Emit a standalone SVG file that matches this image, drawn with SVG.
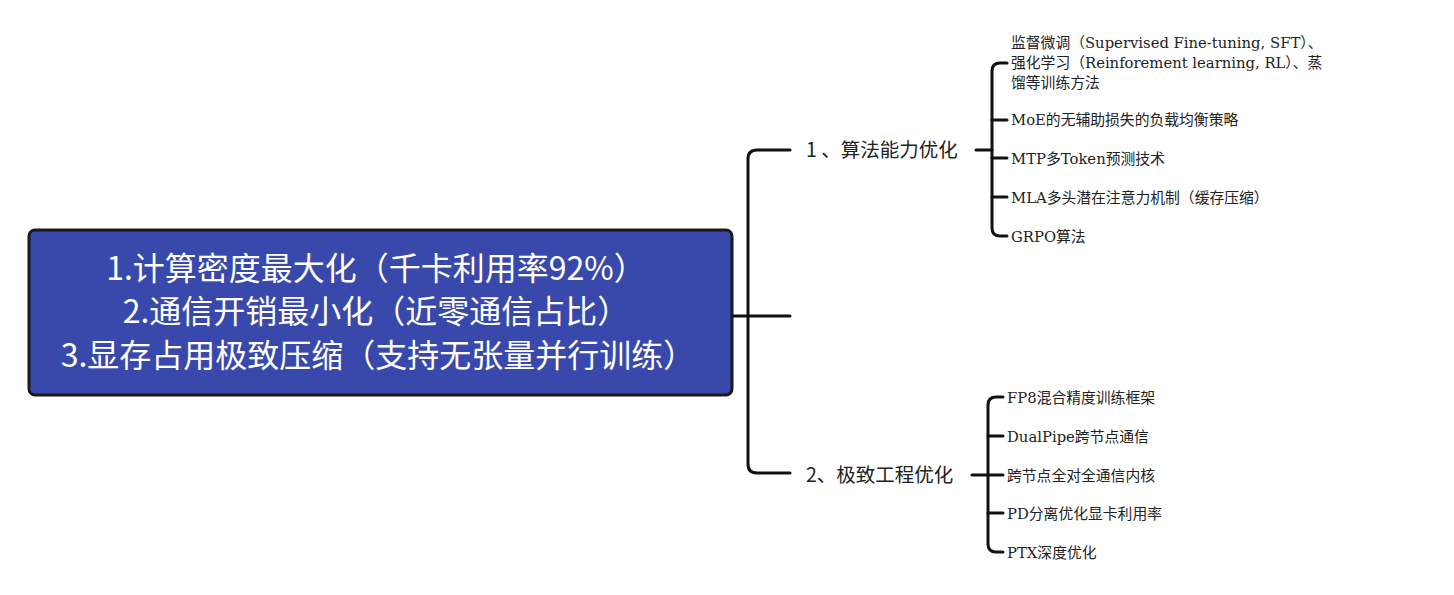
<svg xmlns="http://www.w3.org/2000/svg" width="1454" height="595" viewBox="0 0 1454 595">
<style>
.conn{fill:none;stroke:#111;stroke-width:3;stroke-linecap:round;stroke-linejoin:round}
.main{font-family:"Noto Sans CJK SC","Noto Sans",sans-serif;font-size:32px;fill:#fff;text-anchor:middle}
.l1{font-family:"Noto Sans CJK SC",sans-serif;font-size:19.5px;fill:#222}
.l2{font-family:"DejaVu Serif","Noto Sans CJK SC",serif;font-size:14.8px;fill:#222}
</style>
<rect width="1454" height="595" fill="#fff"/>
<g id="connectors">
<path class="conn" d="M733 316H790"/>
<path class="conn" d="M790 150H757Q748 150 748 159V464Q748 473 757 473H790"/>
<path class="conn" d="M976 150H992"/>
<path class="conn" d="M1007 63H1000Q992 63 992 71V228Q992 236 1000 236H1007"/>
<path class="conn" d="M992 120H1007M992 158H1007M992 197H1007"/>
<path class="conn" d="M972 475H1003"/>
<path class="conn" d="M1003 397H996Q988 397 988 405V544Q988 552 996 552H1003"/>
<path class="conn" d="M988 436H1003M988 513H1003"/>
</g>
<g id="root">
<rect x="29" y="230" width="703" height="165" rx="6" fill="#3949AB" stroke="#1a1a1a" stroke-width="3"/>
<text class="main" x="376" y="280">1.计算密度最大化（千卡利用率92%）</text>
<text class="main" x="376" y="323">2.通信开销最小化（近零通信占比）</text>
<text class="main" x="378" y="367">3.显存占用极致压缩（支持无张量并行训练）</text>
</g>
<g id="n1"><text class="l1" x="806" y="157">1 、算法能力优化</text></g>
<g id="n2"><text class="l1" x="806" y="482">2、极致工程优化</text></g>
<g id="n1a"><text class="l2" x="1011" y="48">监督微调（Supervised Fine-tuning, SFT）、</text><text class="l2" x="1011" y="68">强化学习（Reinforement learning, RL）、蒸</text><text class="l2" x="1011" y="88">馏等训练方法</text></g>
<g id="n1b"><text class="l2" x="1011" y="125">MoE的无辅助损失的负载均衡策略</text></g>
<g id="n1c"><text class="l2" x="1011" y="164">MTP多Token预测技术</text></g>
<g id="n1d"><text class="l2" x="1011" y="203">MLA多头潜在注意力机制（缓存压缩）</text></g>
<g id="n1e"><text class="l2" x="1011" y="242">GRPO算法</text></g>
<g id="n2a"><text class="l2" x="1007" y="403">FP8混合精度训练框架</text></g>
<g id="n2b"><text class="l2" x="1007" y="442">DualPipe跨节点通信</text></g>
<g id="n2c"><text class="l2" x="1007" y="481">跨节点全对全通信内核</text></g>
<g id="n2d"><text class="l2" x="1007" y="519">PD分离优化显卡利用率</text></g>
<g id="n2e"><text class="l2" x="1007" y="558">PTX深度优化</text></g>
</svg>
